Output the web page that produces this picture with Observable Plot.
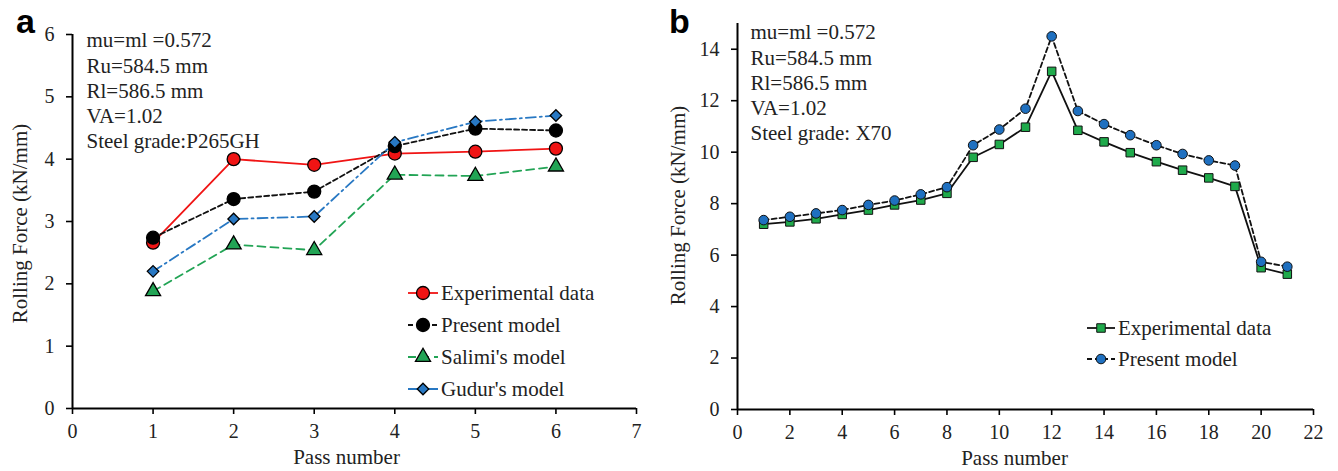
<!DOCTYPE html>
<html><head><meta charset="utf-8">
<script src="https://cdn.jsdelivr.net/npm/d3@7"></script>
<script src="https://cdn.jsdelivr.net/npm/@observablehq/plot@0.6"></script>
<style>
body{margin:0;background:#fff;}
#wrap{width:1338px;height:471px;display:flex;}
#wrap svg{display:block;overflow:visible;font-family:"Liberation Serif","Times New Roman",serif !important;}
#wrap svg text{font-family:"Liberation Serif","Times New Roman",serif !important;}
#wrap svg text.tag{font-family:"Liberation Sans",Arial,sans-serif !important;font-weight:bold;}
</style></head><body><div id="wrap"><div id="pa"></div><div id="pb"></div></div>
<script>
// ---- Panel a data ----
const passA = [1, 2, 3, 4, 5, 6];
const expA = [2.66, 4.0, 3.91, 4.09, 4.12, 4.17];
const presentA = [2.74, 3.36, 3.48, 4.21, 4.49, 4.46];
const salimiA = [1.88, 2.63, 2.54, 3.75, 3.73, 3.88];
const gudurA = [2.2, 3.04, 3.08, 4.27, 4.6, 4.7];
const xTicksA = [0, 1, 2, 3, 4, 5, 6, 7];
const yTicksA = [0, 1, 2, 3, 4, 5, 6];
const notesA = ["mu=ml =0.572", "Ru=584.5 mm", "Rl=586.5 mm", "VA=1.02", "Steel grade:P265GH"];
const seriesA = ["Experimental data", "Present model", "Salimi's model", "Gudur's model"];

// ---- Panel b data ----
const passB = [1, 2, 3, 4, 5, 6, 7, 8, 9, 10, 11, 12, 13, 14, 15, 16, 17, 18, 19, 20, 21];
const expB = [7.2, 7.29, 7.41, 7.58, 7.75, 7.95, 8.14, 8.4, 9.8, 10.3, 10.97, 13.14, 10.85, 10.4, 9.98, 9.63, 9.3, 9.0, 8.67, 5.51, 5.26];
const presentB = [7.36, 7.49, 7.62, 7.75, 7.95, 8.12, 8.36, 8.64, 10.27, 10.88, 11.69, 14.5, 11.6, 11.09, 10.66, 10.27, 9.93, 9.68, 9.48, 5.74, 5.55];
const xTicksB = [0, 2, 4, 6, 8, 10, 12, 14, 16, 18, 20, 22];
const yTicksB = [0, 2, 4, 6, 8, 10, 12, 14];
const notesB = ["mu=ml =0.572", "Ru=584.5 mm", "Rl=586.5 mm", "VA=1.02", "Steel grade: X70"];
const seriesB = ["Experimental data", "Present model"];

const RED = "#f01414", GREEN = "#22a455", BLUE = "#2878c3", GREENSQ = "#1faa4b", BLUEC = "#1f70c0";

const rows = (xs, ys) => xs.map((x, i) => ({x, y: ys[i]}));

function axes(xTicks, yTicks) {
  return [
    Plot.axisX({ticks: xTicks, tickSize: 6, tickPadding: 9, fontSize: 20, label: null, tickFormat: d => String(d), stroke: "#000", strokeWidth: 1.6, fill: "#222"}),
    Plot.axisY({ticks: yTicks, tickSize: 6, tickPadding: 12, fontSize: 20, label: null, tickFormat: d => String(d), stroke: "#000", strokeWidth: 1.6, fill: "#222"}),
    Plot.ruleY([0], {stroke: "#000", strokeWidth: 2}),
    Plot.ruleX([0], {stroke: "#000", strokeWidth: 2})
  ];
}

// ---- Panel a ----
const styleA = [
  {data: expA, stroke: RED, dash: null, symbol: "circle", fill: RED, r: 6.5},
  {data: presentA, stroke: "#111", dash: "5,3", symbol: "circle", fill: "#000", r: 6.5},
  {data: salimiA, stroke: GREEN, dash: "8,5", symbol: "triangle", fill: GREEN, r: 5.6},
  {data: gudurA, stroke: BLUE, dash: "10,4,2,4", symbol: "diamond2", fill: BLUE, r: 5.2}
];
const marksA = [...axes(xTicksA, yTicksA)];
for (const s of styleA) {
  marksA.push(Plot.line(rows(passA, s.data), {x: "x", y: "y", stroke: s.stroke, strokeWidth: 1.8, strokeDasharray: s.dash}));
}
for (const s of styleA) {
  marksA.push(Plot.dot(rows(passA, s.data), {x: "x", y: "y", symbol: s.symbol, r: s.r, fill: s.fill, stroke: "#000", strokeWidth: 1.3}));
}
marksA.push(Plot.text([notesA.join("\n")], {frameAnchor: "top-left", lineAnchor: "top", textAnchor: "start", dx: 14, dy: -5, fontSize: 21, lineHeight: 1.2, fill: "#222"}));
marksA.push(Plot.text(["Pass number"], {frameAnchor: "bottom", textAnchor: "middle", dx: -8, dy: 55, fontSize: 21, fill: "#222"}));
marksA.push(Plot.text(["Rolling Force (kN/mm)"], {frameAnchor: "left", textAnchor: "middle", rotate: -90, dx: -52, dy: 2, fontSize: 21, fill: "#222"}));

const svgA = Plot.plot({
  width: 660, height: 471,
  marginLeft: 72, marginRight: 24, marginTop: 34, marginBottom: 63,
  x: {domain: [0, 7]}, y: {domain: [0, 6]},
  style: {background: "#fff", color: "#222"},
  marks: marksA
});
document.getElementById("pa").appendChild(svgA);

// legend a
{
  const g = d3.select(svgA).append("g").attr("font-size", 21).attr("text-anchor", "start");
  const sym = {circle: d3.symbolCircle, triangle: d3.symbolTriangle, diamond2: d3.symbolDiamond2};
  seriesA.forEach((name, i) => {
    const s = styleA[i], y = 293 + i * 32;
    g.append("line").attr("x1", 408).attr("x2", 438).attr("y1", y).attr("y2", y)
      .attr("stroke", s.stroke).attr("stroke-width", 1.8).attr("stroke-dasharray", s.dash);
    g.append("path").attr("transform", `translate(423,${y})`)
      .attr("d", d3.symbol(sym[s.symbol], Math.PI * s.r * s.r)())
      .attr("fill", s.fill).attr("stroke", "#000").attr("stroke-width", 1.3);
    g.append("text").attr("x", 441).attr("y", y + 7).attr("text-anchor", "start").attr("fill", "#222").text(name);
  });
  d3.select(svgA).append("text").attr("class", "tag").attr("x", 16).attr("y", 33).attr("text-anchor", "start")
    .attr("font-size", 34).attr("fill", "#000").text("a");
}

// ---- Panel b ----
const styleB = [
  {data: expB, dash: null, symbol: "square", fill: GREENSQ, r: 4.8},
  {data: presentB, dash: "5,3", symbol: "circle", fill: BLUEC, r: 4.8}
];
const marksB = [...axes(xTicksB, yTicksB)];
for (const s of styleB) {
  marksB.push(Plot.line(rows(passB, s.data), {x: "x", y: "y", stroke: "#111", strokeWidth: 1.8, strokeDasharray: s.dash}));
}
for (const s of styleB) {
  marksB.push(Plot.dot(rows(passB, s.data), {x: "x", y: "y", symbol: s.symbol, r: s.r, fill: s.fill, stroke: "#111", strokeWidth: 1}));
}
marksB.push(Plot.text([notesB.join("\n")], {frameAnchor: "top-left", lineAnchor: "top", textAnchor: "start", dx: 13, dy: -2, fontSize: 21, lineHeight: 1.2, fill: "#222"}));
marksB.push(Plot.text(["Pass number"], {frameAnchor: "bottom", textAnchor: "middle", dx: -11, dy: 55, fontSize: 21, fill: "#222"}));
marksB.push(Plot.text(["Rolling Force (kN/mm)"], {frameAnchor: "left", textAnchor: "middle", rotate: -90, dx: -59, dy: -11, fontSize: 21, fill: "#222"}));

const svgB = Plot.plot({
  width: 678, height: 471,
  marginLeft: 77, marginRight: 25, marginTop: 23, marginBottom: 62,
  x: {domain: [0, 22]}, y: {domain: [0, 15]},
  style: {background: "#fff", color: "#222"},
  marks: marksB
});
document.getElementById("pb").appendChild(svgB);

{
  const g = d3.select(svgB).append("g").attr("font-size", 21).attr("text-anchor", "start");
  const sym = {circle: d3.symbolCircle, square: d3.symbolSquare};
  seriesB.forEach((name, i) => {
    const s = styleB[i], y = 328 + i * 31;
    g.append("line").attr("x1", 427).attr("x2", 455).attr("y1", y).attr("y2", y)
      .attr("stroke", "#111").attr("stroke-width", 1.8).attr("stroke-dasharray", s.dash);
    g.append("path").attr("transform", `translate(441,${y})`)
      .attr("d", d3.symbol(sym[s.symbol], Math.PI * s.r * s.r)())
      .attr("fill", s.fill).attr("stroke", "#111").attr("stroke-width", 1);
    g.append("text").attr("x", 458).attr("y", y + 7).attr("text-anchor", "start").attr("fill", "#222").text(name);
  });
  d3.select(svgB).append("text").attr("class", "tag").attr("x", 9).attr("y", 33).attr("text-anchor", "start")
    .attr("font-size", 34).attr("fill", "#000").text("b");
}
</script></body></html>
